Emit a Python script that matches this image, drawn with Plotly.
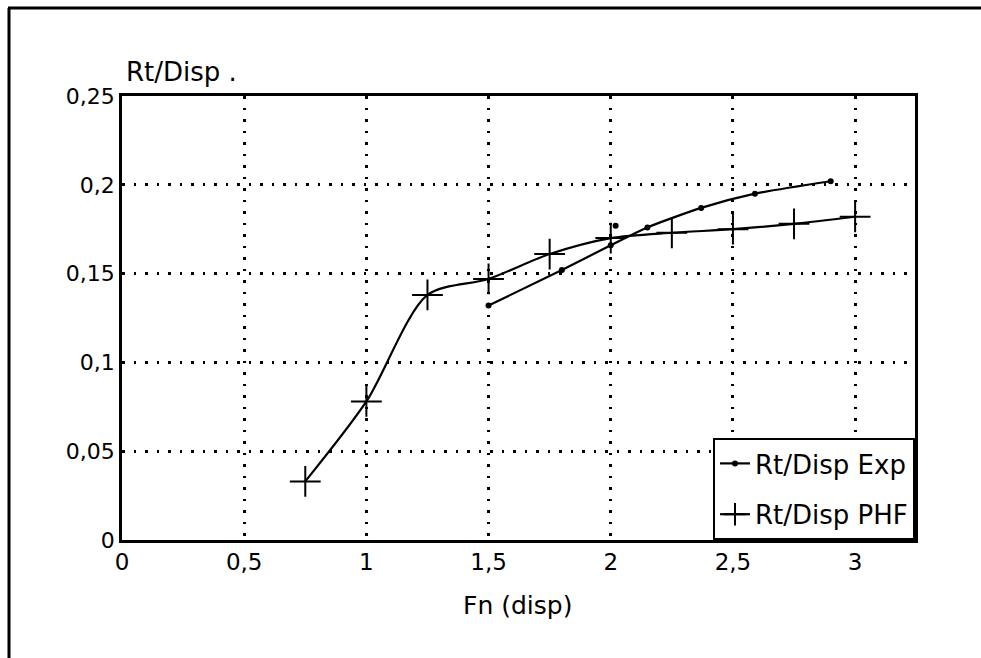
import plotly.graph_objects as go

# ---- data ----
phf_x = [0.75, 1.0, 1.25, 1.5, 1.75, 2.0, 2.25, 2.5, 2.75, 3.0]
phf_y = [0.033, 0.078, 0.138, 0.147, 0.161, 0.170, 0.173, 0.175, 0.178, 0.182]

exp_x = [1.5, 1.8, 2.0, 2.15, 2.37, 2.59, 2.9]
exp_y = [0.132, 0.152, 0.166, 0.176, 0.187, 0.195, 0.202]

stray_x = [2.02]
stray_y = [0.177]

x_ticks = [0, 0.5, 1, 1.5, 2, 2.5, 3]
x_ticktext = ["0", "0,5", "1", "1,5", "2", "2,5", "3"]
y_ticks = [0, 0.05, 0.1, 0.15, 0.2, 0.25]
y_ticktext = ["0", "0,05", "0,1", "0,15", "0,2", "0,25"]

FONT = "DejaVu Sans"
L, R, T, B = 122, 66, 96, 118
W, H = 981, 658
PW, PH = W - L - R, H - T - B


def px(xp):
    return (xp - L) / PW


def py(yp):
    return (H - B - yp) / PH


fig = go.Figure()

fig.add_trace(go.Scatter(
    x=exp_x, y=exp_y, name="Rt/Disp Exp", mode="lines+markers",
    line=dict(color="black", width=2.2, shape="spline", smoothing=0.6),
    marker=dict(symbol="circle", size=6, color="black"),
    legendgroup="a",
))
fig.add_trace(go.Scatter(
    x=phf_x, y=phf_y, name="Rt/Disp PHF", mode="lines+markers",
    line=dict(color="black", width=2.2, shape="spline", smoothing=0.8),
    marker=dict(symbol="cross-thin-open", size=22, color="black",
                line=dict(color="black", width=2)),
    legendgroup="b",
))
fig.add_trace(go.Scatter(
    x=stray_x, y=stray_y, mode="markers", showlegend=False,
    marker=dict(symbol="circle", size=6, color="black"),
))

grid_dash = "2.5px,9px"
fig.update_xaxes(
    range=[0, 3.245], tickvals=x_ticks, ticktext=x_ticktext,
    showgrid=True, gridcolor="black", gridwidth=2.5, griddash=grid_dash,
    showline=True, linecolor="black", linewidth=2.5, mirror=True,
    zeroline=False, ticks="", tickfont=dict(family=FONT, size=23, color="black"),
)
fig.update_yaxes(
    range=[0, 0.25], tickvals=y_ticks, ticktext=y_ticktext,
    showgrid=True, gridcolor="black", gridwidth=2.5, griddash=grid_dash,
    showline=True, linecolor="black", linewidth=2.5, mirror=True,
    zeroline=False, ticks="", tickfont=dict(family=FONT, size=22, color="black"),
)

fig.update_layout(
    width=W, height=H,
    margin=dict(l=L, r=R, t=T, b=B, pad=0),
    paper_bgcolor="white", plot_bgcolor="white",
    font=dict(family=FONT, size=22, color="black"),
    legend=dict(
        x=1, y=0, xanchor="right", yanchor="bottom",
        bordercolor="black", borderwidth=2, bgcolor="white",
        font=dict(family=FONT, size=26, color="black"),
        tracegroupgap=14, itemwidth=30,
    ),
    annotations=[
        dict(text="Rt/Disp .", xref="paper", yref="paper",
             x=px(124), y=py(72), xanchor="left", yanchor="middle",
             showarrow=False, font=dict(family=FONT, size=26, color="black")),
        dict(text="Fn (disp)", xref="paper", yref="paper",
             x=px(517), y=py(605), xanchor="center", yanchor="middle",
             showarrow=False, font=dict(family=FONT, size=25, color="black")),
    ],
    shapes=[
        dict(type="line", xref="paper", yref="paper",
             x0=px(9), x1=px(9), y0=py(8), y1=py(660),
             line=dict(color="black", width=3)),
        dict(type="line", xref="paper", yref="paper",
             x0=px(8), x1=px(983), y0=py(8), y1=py(8),
             line=dict(color="black", width=3)),
    ],
)

fig.write_html("out.html")
